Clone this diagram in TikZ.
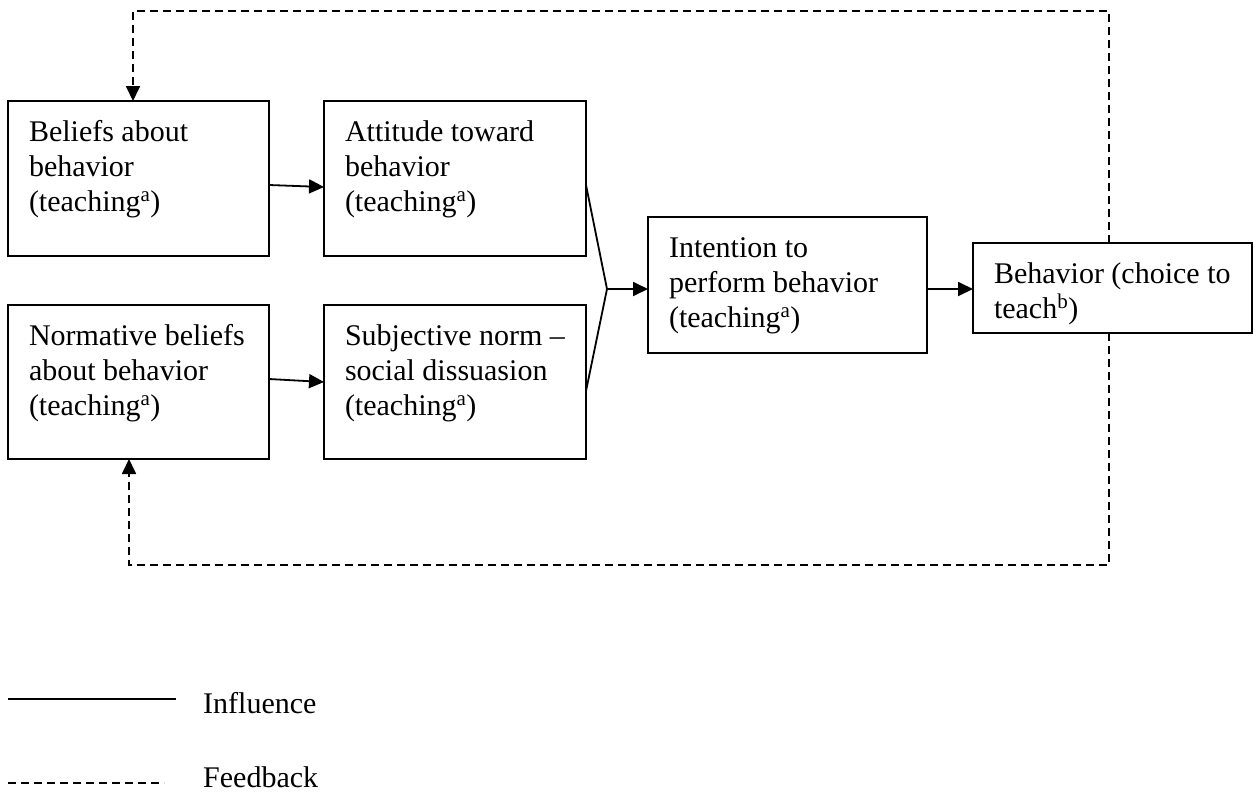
\documentclass[tikz,border=0pt]{standalone}
\usepackage{fontspec}
\setmainfont{Liberation Serif}
\usetikzlibrary{arrows.meta,calc}
\newcommand{\bxt}[3]{\parbox[c][#2][t]{#1}{\raggedright\fontsize{30}{35}\selectfont\rule{0pt}{40pt}#3}}
\tikzset{
  boxnode/.style={draw, line width=2pt, inner xsep=21pt, inner ysep=0pt, anchor=north west, outer sep=0pt},
  infl/.style={line width=1.8pt},
  fb/.style={line width=1.8pt, dash pattern=on 8pt off 5pt},
  tip/.style={-{Triangle[length=15pt,width=14pt]}},
  lbl/.style={anchor=base west, inner sep=0pt, font=\fontsize{30}{35}\selectfont}
}
\begin{document}
\begin{tikzpicture}[x=1pt,y=-1pt]
\useasboundingbox (0,0) rectangle (1257,793);
\fill[white] (0,0) rectangle (1257,793);
\node[boxnode] (n1) at (8,101) {\bxt{219pt}{155pt}{Beliefs about\\behavior\\(teaching\textsuperscript{a})}};
\node[boxnode] (n2) at (324,101) {\bxt{220pt}{155pt}{Attitude toward\\behavior\\(teaching\textsuperscript{a})}};
\node[boxnode] (n3) at (8,305) {\bxt{219pt}{154pt}{Normative beliefs\\about behavior\\(teaching\textsuperscript{a})}};
\node[boxnode] (n4) at (324,305) {\bxt{220pt}{154pt}{Subjective norm --\\social dissuasion\\(teaching\textsuperscript{a})}};
\node[boxnode] (n5) at (648,217) {\bxt{237pt}{136pt}{Intention to\\perform behavior\\(teaching\textsuperscript{a})}};
\node[boxnode] (n6) at (973,243) {\bxt{237pt}{90pt}{Behavior (choice to\\teach\textsuperscript{b})}};
% influence connectors
\draw[infl,tip] ([yshift=-6.5pt]n1.east) -- ([yshift=-8.5pt]n2.west);
\draw[infl,tip] ([yshift=3pt]n3.east) -- (n4.west);
\coordinate (m) at (607,289);
\draw[infl] ($(n2.north east)+(0,84)$) -- (m) -- ($(n4.north east)+(0,86)$);
\draw[infl,tip] (m) -- (n5.west |- m);
\draw[infl,tip] (n5.east |- m) -- (n6.west |- m);
% feedback connectors
\coordinate (t1) at (1109,11);
\coordinate (t2) at (133,11);
\coordinate (b1) at (1109,565);
\coordinate (b2) at (129,565);
\draw[fb,tip] (t1 |- n6.north) -- (t1) -- (t2) -- (t2 |- n1.north);
\draw[fb,tip] (b1 |- n6.south) -- (b1) -- (b2) -- (b2 |- n3.south);
% legend
\coordinate (l1a) at (8,699);
\coordinate (l1b) at (176,699);
\coordinate (l2a) at (8,783);
\coordinate (l2b) at (164,783);
\draw[infl] (l1a) -- (l1b);
\draw[fb] (l2a) -- (l2b);
\node[lbl] (li) at (203,713) {Influence};
\node[lbl] (lf) at (203,787) {Feedback};
\end{tikzpicture}
\end{document}
